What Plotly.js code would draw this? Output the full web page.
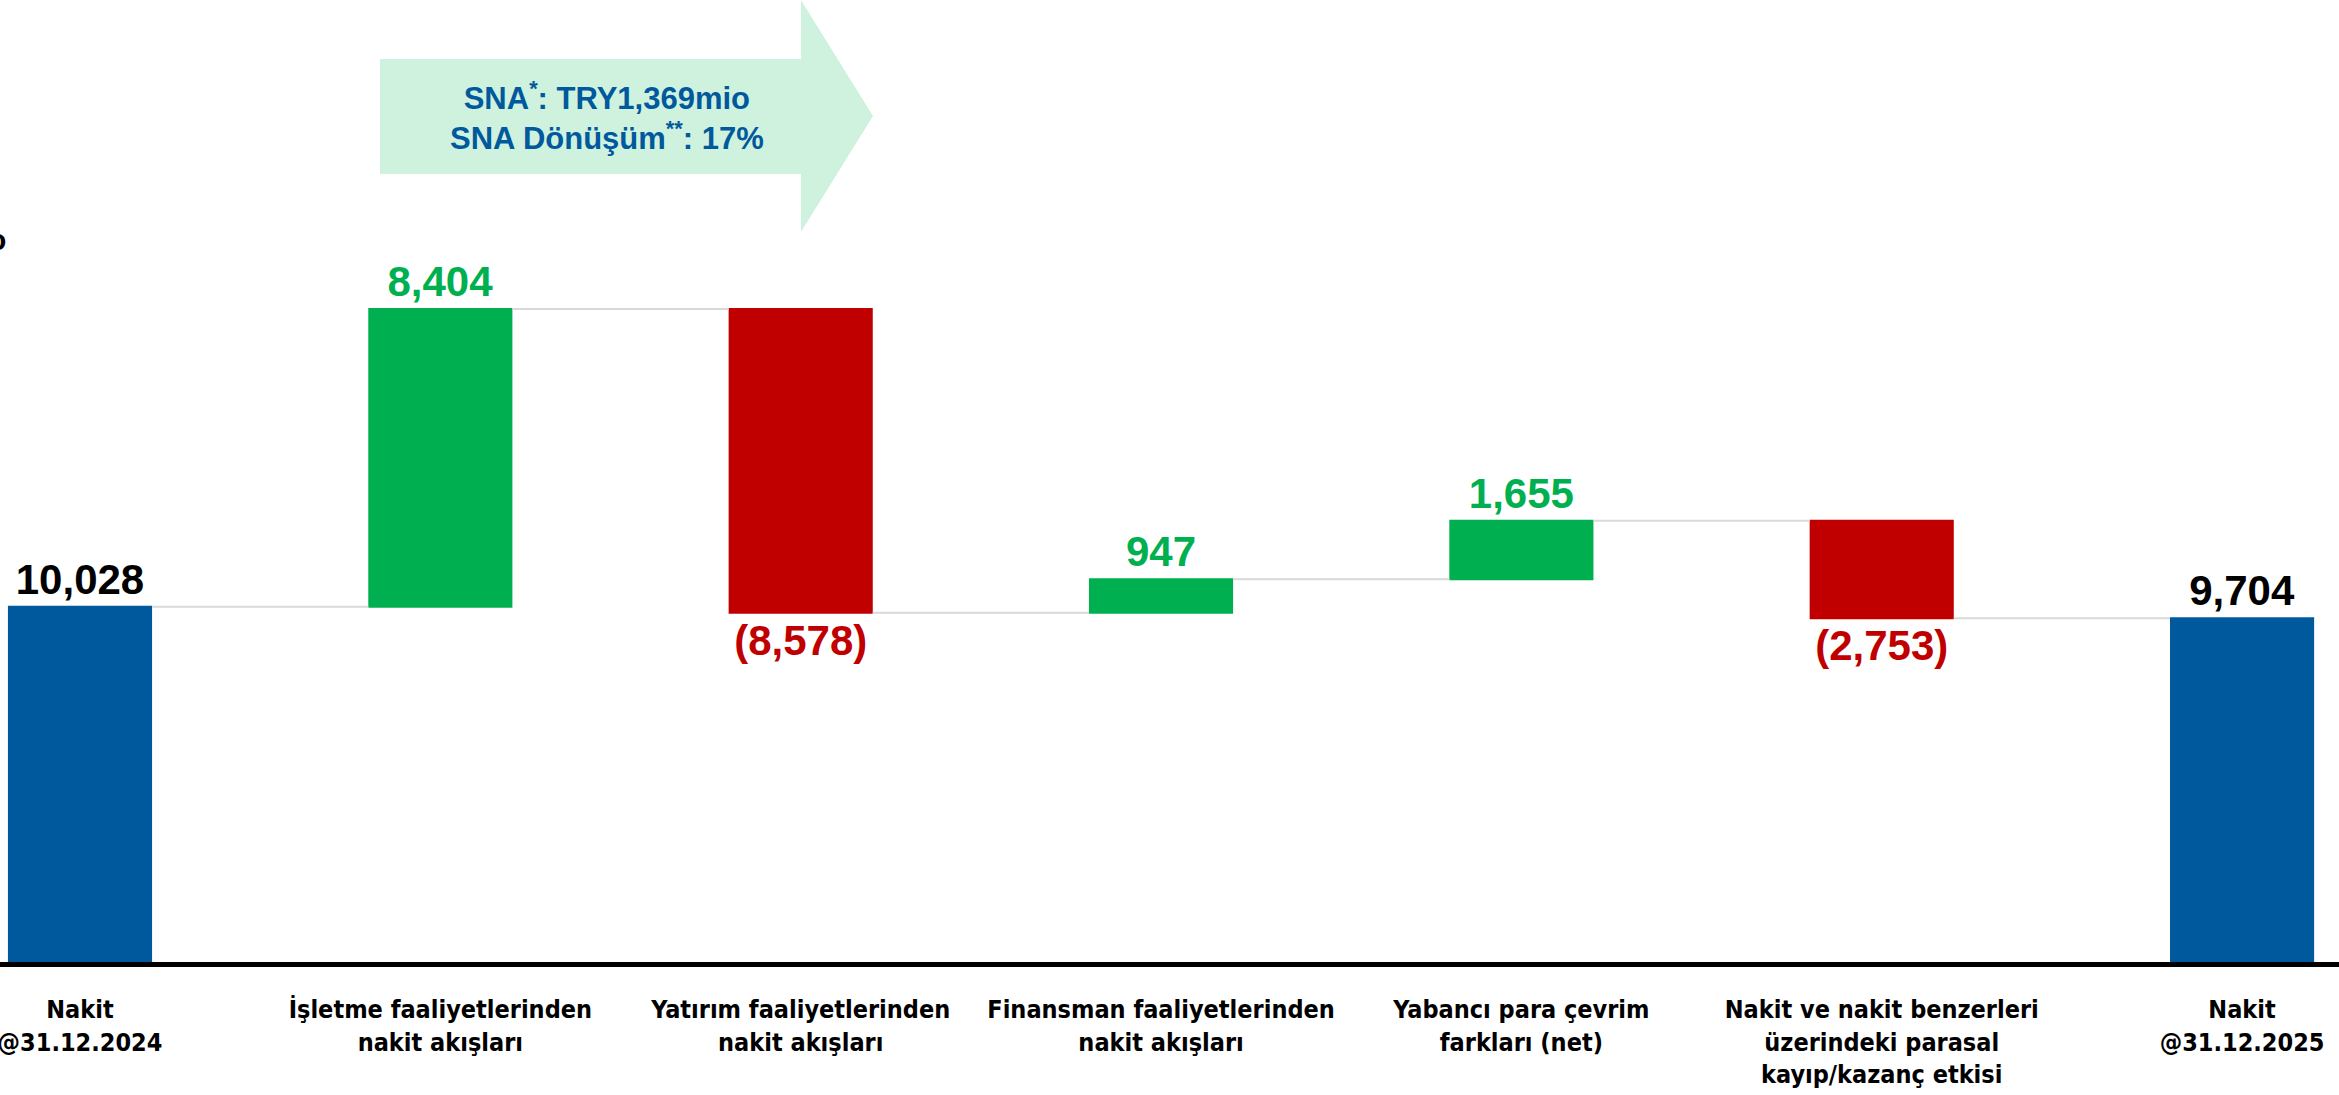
<!DOCTYPE html>
<html>
<head>
<meta charset="utf-8">
<script src="https://cdn.plot.ly/plotly-3.0.1.min.js"></script>
<style>
  html, body { margin: 0; padding: 0; background: #fff; }
  #chart { width: 2339px; height: 1095px; }
</style>
</head>
<body>
<div id="chart"></div>
<script>
// Nakit akışı köprüsü (mio TRY)
const categories = [
    'Nakit<br>@31.12.2024',
    'İşletme faaliyetlerinden<br>nakit akışları',
    'Yatırım faaliyetlerinden<br>nakit akışları',
    'Finansman faaliyetlerinden<br>nakit akışları',
    'Yabancı para çevrim<br>farkları (net)',
    'Nakit ve nakit benzerleri<br>üzerindeki parasal<br>kayıp/kazanç etkisi',
    'Nakit<br>@31.12.2025'
];
const values = [10028, 8404, -8578, 947, 1655, -2753, 9704];
const measures = ['absolute', 'relative', 'relative', 'relative', 'relative', 'relative', 'absolute'];
const valueLabels = ['10,028', '8,404', '(8,578)', '947', '1,655', '(2,753)', '9,704'];
const snaLines = ['SNA<sup>*</sup>: TRY1,369mio', 'SNA Dönüşüm<sup>**</sup>: 17%'];

const BLUE = '#00599C';
const GREEN = '#00B050';
const RED = '#C00000';

const W = 2339, H = 1095;
const plotBottom = 962; // piksel: sıfır çizgisi

// piksel -> paper koordinatı
function px(x) { return x / W; }
function py(y) { return (plotBottom - y) / plotBottom; }

const labelColors = measures.map((m, i) => {
    if (m === 'absolute') return '#000000';
    return values[i] >= 0 ? GREEN : RED;
});

const trace = {
    type: 'waterfall',
    x: categories,
    y: values,
    measure: measures,
    text: valueLabels,
    textinfo: 'text',
    textposition: 'outside',
    textfont: { family: 'Liberation Sans, Arial, sans-serif', size: 42, color: labelColors, weight: 'bold' },
    cliponaxis: false,
    width: 0.4,
    increasing: { marker: { color: GREEN } },
    decreasing: { marker: { color: RED } },
    totals: { marker: { color: BLUE } },
    connector: { line: { color: '#d9d9d9', width: 2 }, mode: 'between' },
    hoverinfo: 'skip'
};

// ok şekli
const arrowPts = [[380, 59], [801, 59], [801, 0], [873, 116], [801, 232], [801, 174], [380, 174]];
const arrowPath = 'M ' + arrowPts.map(p => px(p[0]).toFixed(5) + ',' + py(p[1]).toFixed(5)).join(' L ') + ' Z';

const layout = {
    width: W,
    height: H,
    margin: { l: 0, r: 0, t: 0, b: H - plotBottom },
    paper_bgcolor: '#ffffff',
    plot_bgcolor: '#ffffff',
    showlegend: false,
    xaxis: {
        type: 'category',
        categoryorder: 'array',
        categoryarray: categories,
        range: [-0.222, 6.269],
        showgrid: false,
        zeroline: false,
        showline: true,
        linecolor: '#000000',
        linewidth: 5,
        ticks: '',
        ticklabelstandoff: 21,
        tickfont: { family: 'Liberation Sans Narrow, DejaVu Sans Condensed, sans-serif', size: 25, color: '#000000', weight: 'bold' }
    },
    yaxis: {
        range: [0, 27150],
        visible: false,
        showgrid: false,
        zeroline: false
    },
    shapes: [{
        type: 'path',
        xref: 'paper',
        yref: 'paper',
        path: arrowPath,
        fillcolor: '#CFF2DE',
        line: { width: 0 },
        layer: 'below'
    }],
    annotations: [
        {
            xref: 'paper', yref: 'paper',
            x: px(607), y: py(116),
            xanchor: 'center', yanchor: 'middle',
            text: snaLines.join('<br>'),
            showarrow: false,
            align: 'center',
            font: { family: 'Liberation Sans, Arial, sans-serif', size: 31, color: BLUE, weight: 'bold' }
        },
        {
            xref: 'paper', yref: 'paper',
            x: px(8), y: py(239),
            xanchor: 'right', yanchor: 'middle',
            text: 'mio',
            showarrow: false,
            font: { family: 'Liberation Sans, Arial, sans-serif', size: 30, color: '#000000', weight: 'bold' }
        }
    ]
};

Plotly.newPlot('chart', [trace], layout, { displayModeBar: false, staticPlot: true });
</script>
</body>
</html>
